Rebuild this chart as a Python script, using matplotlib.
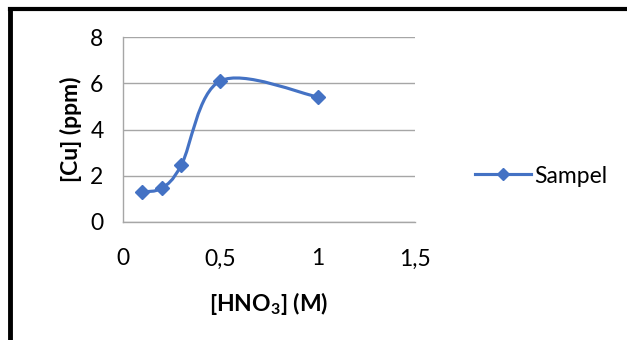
import matplotlib
matplotlib.use("Agg")
from matplotlib import pyplot as plt
from matplotlib.path import Path
from matplotlib.patches import PathPatch
from matplotlib.lines import Line2D
import numpy as np

# data
hno3 = [0.1, 0.2, 0.3, 0.5, 1.0]
cu = [1.3, 1.47, 2.47, 6.1, 5.41]
series_name = "Sampel"
x_ticks = [0, 0.5, 1, 1.5]
x_tick_labels = ["0", "0,5", "1", "1,5"]
y_ticks = [0, 2, 4, 6, 8]

BLUE = "#4472C4"
GRID = "#A6A6A6"

plt.rcParams['font.family'] = ['Lato', 'DejaVu Sans']
plt.rcParams['mathtext.fontset'] = 'custom'
plt.rcParams['mathtext.bf'] = 'Lato:bold'
plt.rcParams['mathtext.rm'] = 'Lato'

fig = plt.figure(figsize=(6.27, 3.4), dpi=100)
ax = fig.add_axes([123/627, 1 - 222/340, 292/627, 185/340])


def smooth_path(xs, ys):
    # Excel-style smoothed line: cubic bezier through the points
    pts = np.column_stack([xs, ys]).astype(float)
    n = len(pts)
    verts = [pts[0]]
    codes = [Path.MOVETO]
    for i in range(n - 1):
        p0 = pts[i - 1] if i > 0 else pts[i]
        p1 = pts[i]
        p2 = pts[i + 1]
        p3 = pts[i + 2] if i + 2 < n else pts[i + 1]
        c1 = p1 + (p2 - p0) / 6.0
        c2 = p2 - (p3 - p1) / 6.0
        verts += [c1, c2, p2]
        codes += [Path.CURVE4] * 3
    return Path(verts, codes)


ax.add_patch(PathPatch(smooth_path(hno3, cu), facecolor='none',
                       edgecolor=BLUE, lw=2.25, capstyle='round', zorder=3))
ax.plot(hno3, cu, linestyle='none', marker='D', markersize=7.5,
        color=BLUE, zorder=4)

ax.set_xlim(0, 1.5)
ax.set_ylim(0, 8)
ax.set_xticks(x_ticks)
ax.set_xticklabels(x_tick_labels)
ax.set_yticks(y_ticks)
ax.tick_params(length=0, labelsize=16.5)
ax.tick_params(axis='x', pad=19)
ax.tick_params(axis='y', pad=14)
ax.yaxis.grid(True, color=GRID, lw=1)
ax.set_axisbelow(True)
for s in ['top', 'right']:
    ax.spines[s].set_visible(False)
for s in ['left', 'bottom']:
    ax.spines[s].set_color(GRID)
    ax.spines[s].set_linewidth(1)

ax.set_xlabel(r"[HNO$_\mathbf{3}$] (M)", fontsize=16.5, fontweight='bold',
              labelpad=15)
ax.set_ylabel("[Cu] (ppm)", fontsize=16.5, fontweight='bold', labelpad=6)

handle = Line2D([], [], color=BLUE, lw=2.25, marker='D', markersize=6)
fig.legend([handle], [series_name], loc='center left',
           bbox_to_anchor=(454/627, 1 - 176/340), frameon=False,
           fontsize=16.5, handlelength=2.45, handletextpad=0.15)

# black frame lines on top and left
fig.add_artist(Line2D([10/627, 1], [1 - 9/340, 1 - 9/340], color='black',
                      lw=3, transform=fig.transFigure))
fig.add_artist(Line2D([10/627, 10/627], [0, 1 - 9/340], color='black',
                      lw=3.5, transform=fig.transFigure))

fig.savefig("out.png", dpi=100)
